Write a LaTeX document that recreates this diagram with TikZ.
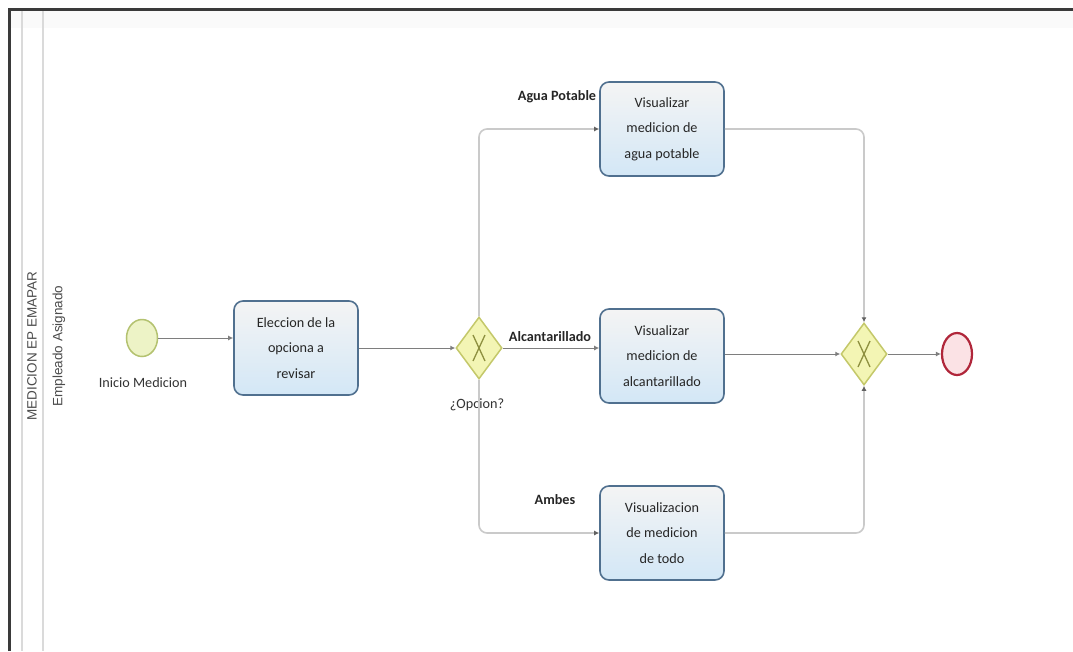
\documentclass[tikz,border=0pt]{standalone}
\usepackage{fontspec}
\setmainfont{Carlito}
\newfontfamily\lanefont{Liberation Sans}
\usetikzlibrary{arrows.meta,shapes.geometric,calc}

\definecolor{taskborder}{HTML}{50708F}
\definecolor{tasktop}{HTML}{F4F4F4}
\definecolor{taskbottom}{HTML}{D3E7F6}
\definecolor{gwfill}{HTML}{F3F5B4}
\definecolor{gwborder}{HTML}{C4C86A}
\definecolor{gwmark}{HTML}{8E9040}
\definecolor{startfill}{HTML}{EDF3C6}
\definecolor{startborder}{HTML}{B4C270}
\definecolor{endfill}{HTML}{FBE2E5}
\definecolor{endborder}{HTML}{B0263A}
\definecolor{flowdark}{HTML}{7E7E7E}
\definecolor{flowlight}{HTML}{CACACA}
\definecolor{framedark}{HTML}{3A3A3A}
\definecolor{lanegray}{HTML}{DADADA}

\tikzset{
  taskbox/.style={rectangle, rounded corners=9pt, draw=taskborder, line width=1.6pt,
    top color=tasktop, bottom color=taskbottom, minimum width=124pt, minimum height=94pt,
    align=center, font=\fontsize{14.2}{25.5}\selectfont, text=black!85},
  gateway/.style={diamond, draw=gwborder, line width=1.5pt, fill=gwfill,
    minimum width=46pt, minimum height=62pt, inner sep=0pt},
  startev/.style={ellipse, draw=startborder, line width=1.5pt, fill=startfill,
    minimum width=31pt, minimum height=37pt, inner sep=0pt},
  endev/.style={ellipse, draw=endborder, line width=2.2pt, fill=endfill,
    minimum width=30pt, minimum height=42pt, inner sep=0pt},
  flow/.style={draw=flowdark, line width=1pt, -{Latex[length=5pt,width=5pt]}},
  branch/.style={draw=flowlight, line width=1.6pt, rounded corners=8pt,
    -{Latex[length=5pt,width=5pt,color=framedark!80]}},
  flowlabel/.style={font=\bfseries\fontsize{14.2}{16}\selectfont, text=black!85},
  evlabel/.style={font=\fontsize{14.2}{16}\selectfont, text=black!80},
  lanelabel/.style={font=\lanefont\fontsize{13.5}{15}\selectfont, text=black!70, rotate=90}
}

\begin{document}
\begin{tikzpicture}[x=1pt, y=-1pt]
  \useasboundingbox (0,0) rectangle (1073,651);
  \fill[white] (0,0) rectangle (1073,651);

  % pool frame and lane separators
  \fill[black!2] (10,11) rectangle (1073,28);
  \draw[lanegray, line width=1.5pt] (22,10) -- (22,651);
  \draw[lanegray, line width=1.5pt] (43,10) -- (43,651);
  \draw[framedark, line width=3pt] (9,651) -- (9,9) -- (1073,9);

  % lane titles
  \node[lanelabel] (pool) at (32,346) {MEDICION EP EMAPAR};
  \node[lanelabel] (lane) at (59,346) {Empleado Asignado};

  % events, tasks and gateways
  \node[startev] (start) at (142,338) {};
  \node[evlabel] (startlbl) at (143,383) {Inicio Medicion};

  \node[taskbox] (choose) at (296,348) {Eleccion de la\\opciona a\\revisar};

  \node[gateway] (split) at (479,348) {};
  \draw[gwmark, line width=1.3pt] ($(split)+(-6,-13)$) -- ($(split)+(6,13)$);
  \draw[gwmark, line width=1.3pt] ($(split)+(6,-13)$) -- ($(split)+(-6,13)$);
  \node[evlabel] (splitlbl) at (477,405) {¿Opcion?};

  \node[taskbox] (water) at (662,129) {Visualizar\\medicion de\\agua potable};
  \node[taskbox] (sewer) at (662,356) {Visualizar\\medicion de\\alcantarillado};
  \node[taskbox] (both)  at (662,533) {Visualizacion\\de medicion\\de todo};

  \node[gateway] (join) at (864,354) {};
  \draw[gwmark, line width=1.3pt] ($(join)+(-6,-13)$) -- ($(join)+(6,13)$);
  \draw[gwmark, line width=1.3pt] ($(join)+(6,-13)$) -- ($(join)+(-6,13)$);

  \node[endev] (finish) at (957,354) {};

  % sequence flows
  \draw[flow] (start.east) -- (start -| choose.west);
  \draw[flow] (choose.east |- split) -- (split.west);

  \draw[branch] (split.north) |- (water.west);
  \draw[flow] (split.east) -- (split -| sewer.west);
  \draw[branch] (split.south) |- (both.west);

  \draw[branch] (water.east) -| (join.north);
  \draw[flow] (sewer.east |- join) -- (join.west);
  \draw[branch] (both.east) -| (join.south);

  \draw[flow] (join.east) -- (finish.west);

  % flow labels
  \node[flowlabel] (lblwater) at (557,97) {Agua Potable};
  \node[flowlabel] (lblsewer) at (550,337) {Alcantarillado};
  \node[flowlabel] (lblboth)  at (555,500) {Ambes};
\end{tikzpicture}
\end{document}
